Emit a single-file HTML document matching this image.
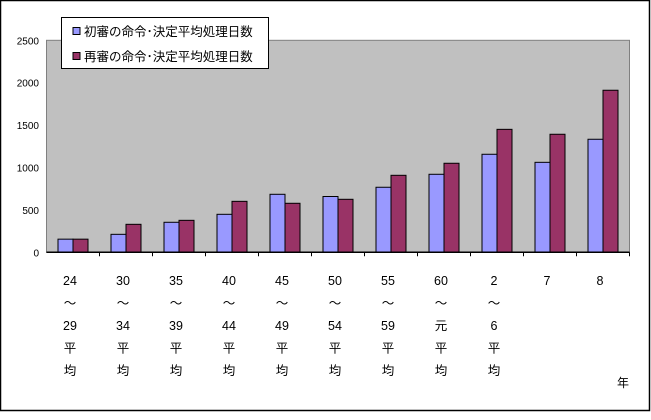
<!DOCTYPE html>
<html><head><meta charset="utf-8"><style>
body{margin:0;background:#fff}
svg text{font-family:"Liberation Sans","Noto Sans CJK JP",sans-serif;fill:#000}
</style></head><body>
<svg id="chart" width="651" height="415" viewBox="0 0 651 415" xmlns="http://www.w3.org/2000/svg">
<rect x="0.5" y="0.5" width="649" height="410" fill="#fff" stroke="#000" stroke-width="1.5"/>
<rect x="46.5" y="40.3" width="583" height="212" fill="#c0c0c0" stroke="#808080" stroke-width="1"/>
<g id="bars"></g><g id="axes"></g><g id="labels"></g>
<g>
<rect x="61.5" y="17.5" width="207" height="51" fill="#fff" stroke="#000"/>
<rect x="73" y="27.5" width="7" height="7" fill="#9999ff" stroke="#000"/>
<text x="84" y="36" font-size="12.5">初審の命令･決定平均処理日数</text>
<rect x="73" y="52.5" width="7" height="7" fill="#993366" stroke="#000"/>
<text x="84" y="61" font-size="12.5">再審の命令･決定平均処理日数</text>
</g>
<text x="617" y="387" font-size="12">年</text>
</svg>
<script>
const categories=[["24","～","29","平","均"],["30","～","34","平","均"],["35","～","39","平","均"],["40","～","44","平","均"],["45","～","49","平","均"],["50","～","54","平","均"],["55","～","59","平","均"],["60","～","元","平","均"],["2","～","6","平","均"],["7"],["8"]];
const firstValues=[155,212,354,448,684,658,767,920,1156,1061,1333];
const secondValues=[155,330,377,601,578,625,908,1050,1450,1392,1911];
const yTicks=[0,500,1000,1500,2000,2500];
const NS="http://www.w3.org/2000/svg";
const x0=46.5,x1=629.5,yB=252.3,yT=40.3,yMax=2500;
const step=(x1-x0)/categories.length;
function y(v){return yB-(v/yMax)*(yB-yT);}
function cx(i){return x0+step*(i+0.5);}
function mk(t,a,p){const e=document.createElementNS(NS,t);for(const k in a)e.setAttribute(k,a[k]);p.appendChild(e);return e;}
const bars=document.getElementById('bars'),axes=document.getElementById('axes'),labels=document.getElementById('labels');
const bw=15;
categories.forEach((c,i)=>{
 const b1=mk('rect',{x:cx(i)-bw,y:y(firstValues[i]),width:bw,height:yB-y(firstValues[i]),fill:'#9999ff',stroke:'#000','stroke-width':1},bars);
 
 
 const b2=mk('rect',{x:cx(i),y:y(secondValues[i]),width:bw,height:yB-y(secondValues[i]),fill:'#993366',stroke:'#000','stroke-width':1},bars);
 
 
 c.forEach((s,j)=>{
  const t=mk('text',{x:cx(i)-3,y:285+j*22.5,'font-size':12.5,'text-anchor':'middle'},labels);
  t.textContent=s;
  
  
 });
 const tk=mk('line',{x1:x0+step*(i+1),x2:x0+step*(i+1),y1:yB,y2:yB+4,stroke:'#000'},axes);
 
 
});
const xa=mk('line',{x1:x0,x2:x1,y1:yB,y2:yB,stroke:'#000','stroke-width':1.5},axes);


yTicks.forEach(v=>{
 const t=mk('text',{x:39,y:y(v)+4,'font-size':10,'text-anchor':'end'},labels);
 t.textContent=v;
 
 
});
</script>
</body></html>
